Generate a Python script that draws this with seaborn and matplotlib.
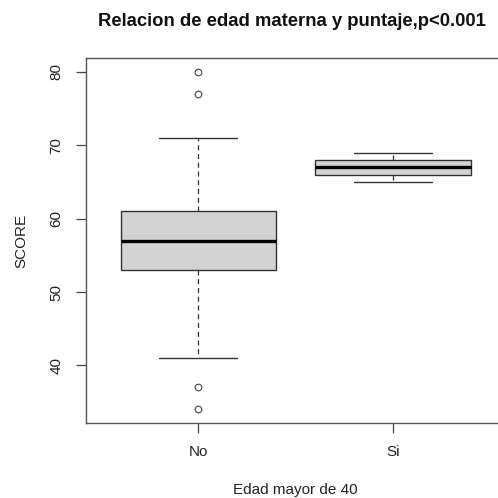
import numpy as np
import pandas as pd
import matplotlib
matplotlib.use("Agg")
import matplotlib.pyplot as plt
import seaborn as sns

# ---- data (five-number summaries) ----
categories = ["No", "Si"]
whisker_low = [41, 65]
q1 = [53, 66]
median = [57, 67]
q3 = [61, 68]
whisker_high = [71, 69]
outliers_low = [[34, 37], []]
outliers_high = [[77, 80], []]
y_ticks = [40, 50, 60, 70, 80]

# build a small sample per group that reproduces those statistics
rows = []
for i, cat in enumerate(categories):
    vals = (outliers_low[i] + [whisker_low[i]] + [q1[i]] * 4 + [median[i]]
            + [q3[i]] * 4 + [whisker_high[i]] + outliers_high[i])
    rows += [(cat, v) for v in vals]
df = pd.DataFrame(rows, columns=["grupo", "score"])

sns.set_theme(style="white")
plt.rcParams["font.family"] = ["Liberation Sans", "DejaVu Sans"]

W = H = 498
fig = plt.figure(figsize=(W / 100, H / 100), dpi=100)
left, right, top, bottom = 85.5, 506, 58.3, 423
ax = fig.add_axes([left / W, 1 - bottom / H, (right - left) / W, (bottom - top) / H])

txt = "#222222"
line = "#333333"
sns.boxplot(data=df, x="grupo", y="score", order=categories, ax=ax,
            color="#D3D3D3", saturation=1, width=0.8, linecolor=line,
            linewidth=1.0, whis=1.5, fliersize=5,
            whiskerprops=dict(linestyle=(0, (4, 3)), color=line, linewidth=0.9),
            capprops=dict(color=line, linewidth=1.0),
            medianprops=dict(color="black", linewidth=2.4),
            flierprops=dict(marker="o", markerfacecolor="none",
                            markeredgecolor="#444444", markeredgewidth=0.8,
                            markersize=4.8))

ax.set_xlim(-0.58, 1.58)
ax.set_ylim(32.16, 81.84)
ax.set_yticks(y_ticks)
ax.set_yticklabels([str(t) for t in y_ticks], rotation=90, va="center",
                   fontsize=11, color=txt)
ax.set_xticks(range(len(categories)))
ax.set_xticklabels(categories, fontsize=11, color=txt)
ax.tick_params(axis="both", length=7, width=0.9, color="#444444", pad=9,
               left=True, bottom=True)
ax.set_xlabel("")
ax.set_ylabel("")
for s in ax.spines.values():
    s.set_color("#555555")
    s.set_linewidth(1.0)

fig.text(21 / W, 1 - 240.5 / H, "SCORE", rotation=90, ha="center", va="center",
         fontsize=11, color=txt)
fig.text(295.5 / W, 1 - 490 / H, "Edad mayor de 40", ha="center", va="center",
         fontsize=11, color=txt)
fig.text(292 / W, 1 - 21.5 / H, "Relacion de edad materna y puntaje,p<0.001",
         ha="center", va="center", fontsize=13.3, fontweight="bold", color="#111111")

fig.savefig("out.png", dpi=100)
